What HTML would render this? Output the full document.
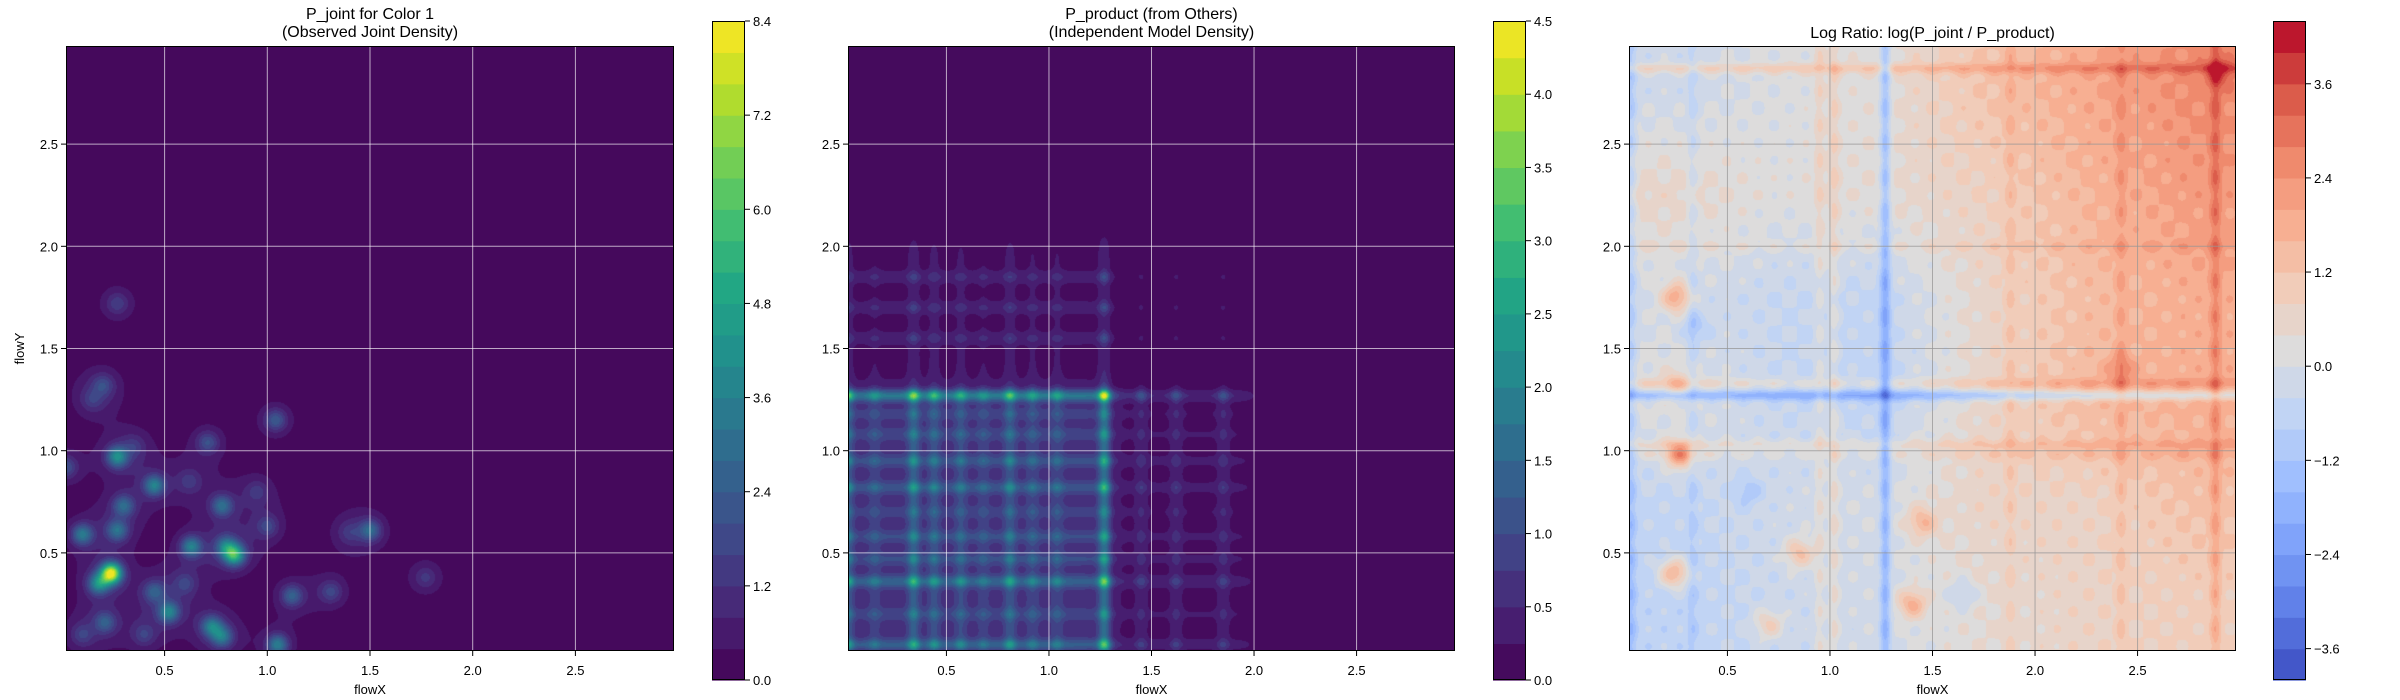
<!DOCTYPE html>
<html><head><meta charset="utf-8">
<style>
html,body{margin:0;padding:0;background:#fff;}
#wrap{position:relative;width:2400px;height:700px;overflow:hidden;font-family:"Liberation Sans",sans-serif;}
canvas{position:absolute;}
svg{position:absolute;left:0;top:0;}
</style></head>
<body>
<div id="wrap">
<canvas id="c1"></canvas>
<canvas id="c2"></canvas>
<canvas id="c3"></canvas>
<svg id="ov" width="2400" height="700"></svg>
</div>
<script>
// ---------- data ----------
const axisMin = 0.02, axisMax = 2.98;
const gridTicks = [0.5, 1.0, 1.5, 2.0, 2.5];
const tickLabels = ["0.5", "1.0", "1.5", "2.0", "2.5"];
// plot 1 blobs: x, y, peak
const jointX = [0.24,0.18,0.84,0.80,0.63,0.27,0.45,0.10,0.27,0.30,0.78,0.52,0.73,0.78,1.05,1.12,0.45,0.21,1.50,1.04,0.71,0.20,0.27,0.02,1.31,1.00,1.77,0.10,0.40,0.60,0.15,0.35,0.62,0.95,1.40];
const jointY = [0.40,0.35,0.49,0.53,0.53,0.97,0.83,0.59,0.61,0.73,0.73,0.21,0.14,0.09,0.05,0.29,0.31,0.16,0.61,1.15,1.04,1.32,1.72,0.92,0.31,0.63,0.38,0.10,0.10,0.35,1.25,1.02,0.85,0.80,0.60];
const jointV = [7.6,3.4,4.6,2.6,3.0,3.4,3.0,2.8,2.4,2.2,2.4,3.0,2.8,2.6,3.0,2.0,1.8,1.8,2.2,1.8,1.5,1.2,1.0,1.5,1.2,1.2,0.8,1.0,1.0,1.0,0.8,0.7,0.8,0.8,0.7];
const jointLevels = {min:0, max:8.4, n:21};
const jointCbTicks = [0,1.2,2.4,3.6,4.8,6.0,7.2,8.4];
const jointCbLabels = ["0.0","1.2","2.4","3.6","4.8","6.0","7.2","8.4"];
// plot 2 marginals
const margXPos = [0.02,0.15,0.34,0.44,0.57,0.68,0.81,0.92,1.04,1.27,1.45,1.62,1.85];
const margXAmp = [1.0,0.3,0.9,0.6,0.5,0.3,0.7,0.4,0.4,1.4,0.3,0.3,0.3];
const margYPos = [0.05,0.20,0.36,0.47,0.58,0.70,0.82,0.95,1.08,1.18,1.27,1.55,1.70,1.85];
const margYAmp = [1.0,0.4,1.0,0.5,0.5,0.3,0.7,0.6,0.4,0.3,1.6,0.3,0.3,0.3];
const margXBase = [[0,1.3,0.8],[1.3,2.0,0.22]];
const margYBase = [[0,1.3,0.8],[1.3,2.05,0.22]];
const prodLevels = {min:0, max:4.5, n:18};
const prodCbTicks = [0,0.5,1.0,1.5,2.0,2.5,3.0,3.5,4.0,4.5];
const prodCbLabels = ["0.0","0.5","1.0","1.5","2.0","2.5","3.0","3.5","4.0","4.5"];
// plot 3 log ratio
const ratioGridX = [0.25,0.75,1.25,1.75,2.25,2.75];
const ratioGridY = [0.25,0.75,1.25,1.75,2.25,2.75];
const ratioGrid = [
 [-0.6,-0.3,-0.1,0.4,0.7,0.9],
 [-0.5,-0.2,0.0,0.7,0.7,1.3],
 [0.2,-0.4,-0.6,0.6,1.5,1.8],
 [-0.1,-0.4,-0.5,0.6,1.4,1.8],
 [0.6,0.2,0.4,0.8,1.6,2.2],
 [-0.2,0.1,0.3,1.2,1.9,2.5]];
const colStripeX = [1.27,0.03,0.33,1.02,0.95,2.88,2.42,1.88];
const colStripeA = [-1.6,-0.9,-0.5,0.6,0.5,0.9,0.5,0.4];
const rowStripeY = [1.27,2.87,1.33,1.03,2.0,0.98];
const rowStripeA = [-1.5,0.9,0.6,0.6,0.3,0.4];
const ratioBlobX = [0.25,0.27,0.24,1.45,1.40,0.85,0.70,0.25,2.42,2.9,0.35,0.60,1.65];
const ratioBlobY = [1.75,0.98,0.40,0.65,0.25,0.50,0.15,1.33,1.40,2.85,1.6,0.80,0.30];
const ratioBlobV = [2.0,2.5,2.2,1.4,1.7,1.5,1.2,1.0,1.0,1.2,-0.8,-0.8,-0.8];
const ratioLevels = {min:-4.0, max:4.4, n:21};
const ratioCbTicks = [-3.6,-2.4,-1.2,0,1.2,2.4,3.6];
const ratioCbLabels = ["\u22123.6","\u22122.4","\u22121.2","0.0","1.2","2.4","3.6"];

// ---------- layout ----------
const panels = [
 {canvas:'c1', x0:66, x1:674, cb:712, title:["P_joint for Color 1","(Observed Joint Density)"], ylabel:true, grid:'rgba(255,255,255,0.65)'},
 {canvas:'c2', x0:848, x1:1455, cb:1493, title:["P_product (from Others)","(Independent Model Density)"], ylabel:false, grid:'rgba(255,255,255,0.65)'},
 {canvas:'c3', x0:1629, x1:2236, cb:2273, title:["Log Ratio: log(P_joint / P_product)"], ylabel:false, grid:'rgba(150,150,150,0.75)'}];
const Y0 = 46, Y1 = 651, CBW = 33, CBT = 21, CBB = 680;

const viridis = ["#440154","#482475","#414487","#355f8d","#2a788e","#21918c","#22a884","#44bf70","#7ad151","#bddf26","#fde725"];
const coolwarm = ["#3b4cc0","#5b7ae5","#7b9ff9","#9dbdff","#c0d4f5","#dddcdc","#f2cbb7","#f7ac8e","#ee8468","#d65244","#b40426"];
function hex(h){return [parseInt(h.substr(1,2),16),parseInt(h.substr(3,2),16),parseInt(h.substr(5,2),16)];}
function cmap(stops,t){t=Math.max(0,Math.min(1,t));const f=t*(stops.length-1);const i=Math.min(stops.length-2,Math.floor(f));const r=f-i;const a=hex(stops[i]),b=hex(stops[i+1]);return [0,1,2].map(k=>Math.round(a[k]+(b[k]-a[k])*r));}
function bandColors(stops,lv){const out=[];for(let i=0;i<lv.n;i++)out.push(cmap(stops,(i+0.5)/lv.n));return out;}

function g(d,s){return Math.exp(-d*d/(2*s*s));}
function smoothStep(x,a,b){const e=0.03;return 1/(1+Math.exp(-(x-a)/e))*(1/(1+Math.exp((x-b)/e)));}
function marg(v,pos,amp,base){let s=0;for(const b of base)s+=b[2]*smoothStep(v,b[0],b[1]);for(let i=0;i<pos.length;i++)s+=amp[i]*g(v-pos[i],0.02);return s;}

function joint(x,y){let s=0;for(let i=0;i<jointX.length;i++){const dx=x-jointX[i],dy=y-jointY[i];s+=jointV[i]*Math.exp(-(dx*dx+dy*dy)/(2*0.035*0.035));}
 let bg=0;for(let i=0;i<jointX.length;i++){const dx=x-jointX[i],dy=y-jointY[i];bg+=0.55*Math.exp(-(dx*dx+dy*dy)/(2*0.09*0.09));}return s+bg;}
function interp(arr,v){if(v<=arr[0])return [0,0,0];if(v>=arr[arr.length-1])return [arr.length-1,arr.length-1,0];for(let i=0;i<arr.length-1;i++)if(v<arr[i+1])return [i,i+1,(v-arr[i])/(arr[i+1]-arr[i])];}
function ratio(x,y){const [i0,i1,fx]=interp(ratioGridX,x);const [j0,j1,fy]=interp(ratioGridY,y);
 let v=(ratioGrid[j0][i0]*(1-fx)+ratioGrid[j0][i1]*fx)*(1-fy)+(ratioGrid[j1][i0]*(1-fx)+ratioGrid[j1][i1]*fx)*fy;
 for(let i=0;i<colStripeX.length;i++)v+=colStripeA[i]*g(x-colStripeX[i],0.018);
 for(let i=0;i<rowStripeY.length;i++)v+=rowStripeA[i]*g(y-rowStripeY[i],0.018);
 for(let i=0;i<ratioBlobX.length;i++){const dx=x-ratioBlobX[i],dy=y-ratioBlobY[i];v+=ratioBlobV[i]*Math.exp(-(dx*dx+dy*dy)/(2*0.05*0.05));}
 v+=0.25*Math.sin(x*41)*Math.sin(y*37);
 return v;}

function render(p,fn,lv,stops){const c=document.getElementById(p.canvas);const w=p.x1-p.x0,h=Y1-Y0;c.width=w;c.height=h;c.style.left=p.x0+'px';c.style.top=Y0+'px';
 const ctx=c.getContext('2d');const img=ctx.createImageData(w,h);const cols=bandColors(stops,lv);const step=(lv.max-lv.min)/lv.n;
 for(let py=0;py<h;py++){const y=axisMax-(py+0.5)/h*(axisMax-axisMin);for(let px=0;px<w;px++){const x=axisMin+(px+0.5)/w*(axisMax-axisMin);
  let b=Math.floor((fn(x,y)-lv.min)/step);b=Math.max(0,Math.min(lv.n-1,b));const col=cols[b];const k=(py*w+px)*4;img.data[k]=col[0];img.data[k+1]=col[1];img.data[k+2]=col[2];img.data[k+3]=255;}}
 ctx.putImageData(img,0,0);}

render(panels[0],joint,jointLevels,viridis);
render(panels[1],(x,y)=>marg(x,margXPos,margXAmp,margXBase)*marg(y,margYPos,margYAmp,margYBase),prodLevels,viridis);
render(panels[2],ratio,ratioLevels,coolwarm);

// ---------- overlay ----------
const NS="http://www.w3.org/2000/svg";const ov=document.getElementById('ov');
function el(tag,attrs,parent,text){const e=document.createElementNS(NS,tag);for(const k in attrs)e.setAttribute(k,attrs[k]);if(text!==undefined)e.textContent=text;(parent||ov).appendChild(e);return e;}
const cbSpecs=[[jointLevels,viridis,jointCbTicks,jointCbLabels],[prodLevels,viridis,prodCbTicks,prodCbLabels],[ratioLevels,coolwarm,ratioCbTicks,ratioCbLabels]];
panels.forEach((p,pi)=>{
 const grp=el('g',{});
 
 
 const sx=v=>p.x0+(v-axisMin)/(axisMax-axisMin)*(p.x1-p.x0);
 const sy=v=>Y1-(v-axisMin)/(axisMax-axisMin)*(Y1-Y0);
 gridTicks.forEach((t,i)=>{
  const gx=el('line',{x1:sx(t),x2:sx(t),y1:Y0,y2:Y1,stroke:p.grid,'stroke-width':1},grp);
  
  
  const gy=el('line',{x1:p.x0,x2:p.x1,y1:sy(t),y2:sy(t),stroke:p.grid,'stroke-width':1},grp);
  
  
  el('line',{x1:sx(t),x2:sx(t),y1:Y1,y2:Y1+5,stroke:'#000'},grp);
  const xl=el('text',{x:sx(t),y:Y1+24,'text-anchor':'middle','font-size':13},grp,tickLabels[i]);
  
  
  el('line',{x1:p.x0-5,x2:p.x0,y1:sy(t),y2:sy(t),stroke:'#000'},grp);
  const yl=el('text',{x:p.x0-8,y:sy(t)+5,'text-anchor':'end','font-size':13},grp,tickLabels[i]);
  
  
 });
 const fr=el('rect',{x:p.x0+0.5,y:Y0+0.5,width:p.x1-p.x0-1,height:Y1-Y0-1,fill:'none',stroke:'#000'},grp);
 
 
 const cx=(p.x0+p.x1)/2;
 if(p.title.length===2){
  const t1=el('text',{x:cx,y:19,'text-anchor':'middle','font-size':16},grp,p.title[0]);
  
  
  const t2=el('text',{x:cx,y:37,'text-anchor':'middle','font-size':16},grp,p.title[1]);
  
  
 } else {
  const t1=el('text',{x:cx,y:38,'text-anchor':'middle','font-size':16},grp,p.title[0]);
  
  
 }
 const xt=el('text',{x:cx,y:694,'text-anchor':'middle','font-size':13},grp,'flowX');
 
 
 if(p.ylabel){
  const yt=el('text',{x:0,y:0,'text-anchor':'middle','font-size':13,transform:'translate(24,'+((Y0+Y1)/2)+') rotate(-90)'},grp,'flowY');
  
  
 }
 // colorbar
 const [lv,stops,ticks,labels]=cbSpecs[pi];
 const cols=bandColors(stops,lv);
 const cb=el('g',{},grp);
 
 
 const cy=v=>CBB-(v-lv.min)/(lv.max-lv.min)*(CBB-CBT);
 const step=(lv.max-lv.min)/lv.n;
 for(let i=0;i<lv.n;i++){
  const a=lv.min+i*step,b=a+step;
  const r=el('rect',{x:p.cb,y:cy(b),width:CBW,height:cy(a)-cy(b)+0.6,fill:'rgb('+cols[i].join(',')+')'},cb);
  
  
 }
 el('rect',{x:p.cb+0.5,y:CBT+0.5,width:CBW-1,height:CBB-CBT-1,fill:'none',stroke:'#000'},cb);
 ticks.forEach((t,i)=>{
  el('line',{x1:p.cb+CBW,x2:p.cb+CBW+5,y1:cy(t),y2:cy(t),stroke:'#000'},cb);
  const tl=el('text',{x:p.cb+CBW+8,y:cy(t)+5,'font-size':13},cb,labels[i]);
  
  
 });
});
</script>
</body></html>
